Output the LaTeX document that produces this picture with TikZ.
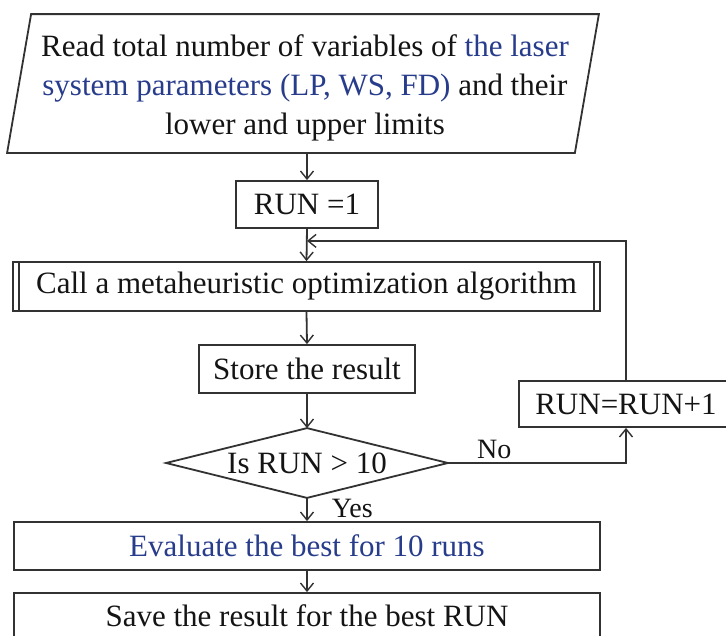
\documentclass[tikz,border=0pt]{standalone}
\usepackage{fontspec}
\setmainfont{Liberation Serif}
\usetikzlibrary{arrows.meta,calc}
\definecolor{ln}{RGB}{50,50,50}
\definecolor{bl}{RGB}{40,60,140}
\definecolor{tx}{RGB}{20,20,20}
\begin{document}
\begin{tikzpicture}[x=1pt,y=-1pt, line width=1.8pt,
  font=\fontsize{31}{39}\selectfont, text=tx,
  every node/.style={inner sep=0pt, align=center},
  box/.style={draw=ln, minimum width=#1, minimum height=48},
  arr/.style={draw=ln, -{Straight Barb[length=8pt,width=13pt,line width=1.4pt]}},
  lbl/.style={font=\fontsize{28}{34}\selectfont}]
\clip (0,0) rectangle (726,635);
\useasboundingbox (0,0) rectangle (726,635);
\fill[white] (0,0) rectangle (726,635);

% input parallelogram
\node[minimum width=590, minimum height=137] (in) at (303,83.5) {};
\draw[ln] ($(in.north west)+(24,0)$) -- (in.north east) -- ($(in.south east)-(24,0)$) -- (in.south west) -- cycle;
\node (intxt) at ($(in.center)+(2,4)$)
  {Read total number of variables of \textcolor{bl}{the laser}\\
   \textcolor{bl}{system parameters (LP, WS, FD)} and their\\
   lower and upper limits};

\node[box=142, minimum height=47] (r1) at (307,204.5) {RUN =1};
\node[box=587, minimum height=49] (sub) at (306.5,286.5) {Call a metaheuristic optimization algorithm};
\draw[ln] ($(sub.north west)+(7,0)$) -- ($(sub.south west)+(7,0)$);
\draw[ln] ($(sub.north east)-(7,0)$) -- ($(sub.south east)-(7,0)$);
\node[box=216] (st) at (307,369) {Store the result};
\node[minimum width=280, minimum height=68] (dec) at (307,463) {Is RUN > 10};
\draw[ln] (dec.west) -- (dec.north) -- (dec.east) -- (dec.south) -- cycle;
\node[box=586] (ev) at (307,546) {\textcolor{bl}{Evaluate the best for 10 runs}};
\node[box=586, minimum height=46] (sv) at (307,616) {Save the result for the best RUN};
\node[box=214, minimum height=46] (inc) at (626,404) {RUN=RUN+1};

\coordinate (j) at ($(r1.south)+(0,12)$);

\draw[arr] (in.south -| r1.north) -- (r1.north);
\draw[arr] (r1.south) -- (sub.north);
\draw[arr] (inc.north) |- (j);
\draw[arr] (sub.south) -- (st.north);
\draw[arr] (st.south) -- (dec.north);
\draw[arr] (dec.east) -| (inc.south) node[pos=0.13, above=3pt, lbl] {No};
\draw[arr] (dec.south) -- (ev.north) node[pos=0.45, right=24pt, lbl] {Yes};
\draw[arr] (ev.south) -- (sv.north);
\end{tikzpicture}
\end{document}
